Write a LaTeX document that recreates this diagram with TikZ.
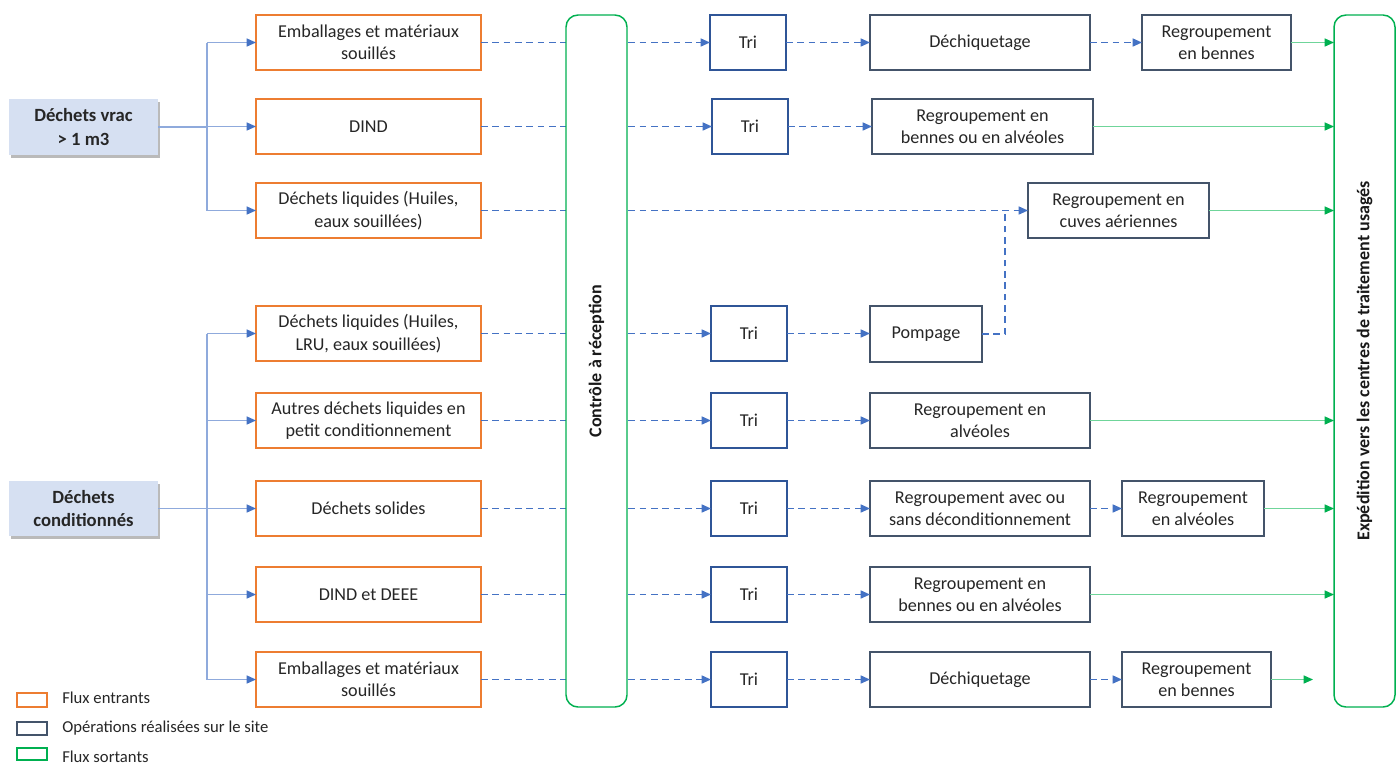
\documentclass[tikz,border=0pt]{standalone}
\usepackage{fontspec}
\setmainfont{Carlito}
\usetikzlibrary{arrows.meta,shadows}
\definecolor{org}{HTML}{ED7D31}
\definecolor{opc}{HTML}{44546A}
\definecolor{tric}{HTML}{2F5597}
\definecolor{blu}{HTML}{4472C4}
\definecolor{lblu}{HTML}{8FAADC}
\definecolor{grn}{HTML}{00B050}
\definecolor{lgrn}{HTML}{6FD59A}
\definecolor{srcf}{HTML}{D6E0F2}
\newcommand\bx[7]{\node[#6, inner sep=0pt, outer sep=0pt, minimum width={(#4-#2)*0.75pt}, minimum height={(#5-#3)*0.75pt}] (#1) at ({(#2+#4)/2},{(#3+#5)/2}) {#7};}
\begin{document}
\begin{tikzpicture}[x=0.75pt,y=-0.75pt,
  txt/.style={font=\fontsize{13.6}{16.8}\selectfont, align=center, text=black!85},
  inbox/.style={txt, draw=org, line width=1.3pt, fill=white},
  tribox/.style={txt, draw=tric, line width=1.1pt, fill=white},
  opbox/.style={txt, draw=opc, line width=1.1pt, fill=white},
  srcbox/.style={txt, font=\fontsize{14}{17.5}\selectfont\bfseries, fill=srcf, drop shadow={shadow xshift=1.5pt, shadow yshift=-2pt, opacity=.45, fill=black!60}},
  outbox/.style={draw=grn, line width=1.1pt, fill=white, rounded corners=9pt},
  vtext/.style={rotate=90, font=\fontsize{13.5}{16}\selectfont\bfseries, text=black!90},
  dsh/.style={draw=blu, line width=1.1pt, dash pattern=on 5pt off 3.5pt},
  dsharr/.style={dsh, -{Triangle[length=7pt,width=6pt,color=blu]}},
  bl/.style={draw=lblu, line width=1pt},
  blarr/.style={bl, -{Triangle[length=7pt,width=6pt,color=blu]}},
  garr/.style={draw=lgrn, line width=1pt, -{Triangle[length=7pt,width=6pt,color=grn]}},
  legtxt/.style={font=\fontsize{12.5}{14}\selectfont, text=black!85, anchor=west, inner sep=0pt}
]
\useasboundingbox (0,0) rectangle (1398,765);

% sources
\bx{s1}{9}{99}{158}{155}{srcbox}{Déchets vrac\\> 1 m3}
\bx{s2}{9}{481}{158}{536}{srcbox}{Déchets\\conditionnés}

% incoming boxes
\bx{o1}{256}{15}{481}{70}{inbox}{Emballages et matériaux\\souillés}
\bx{o2}{256}{99}{481}{154}{inbox}{DIND}
\bx{o3}{256}{183}{481}{238}{inbox}{Déchets liquides (Huiles,\\eaux souillées)}
\bx{o4}{256}{306}{481}{361}{inbox}{Déchets liquides (Huiles,\\LRU, eaux souillées)}
\bx{o5}{256}{393}{481}{448}{inbox}{Autres déchets liquides en\\petit conditionnement}
\bx{o6}{256}{481}{481}{536}{inbox}{Déchets solides}
\bx{o7}{256}{567}{481}{622}{inbox}{DIND et DEEE}
\bx{o8}{256}{652}{481}{707}{inbox}{Emballages et matériaux\\souillés}

% tri boxes
\bx{t1}{710}{15}{786}{70}{tribox}{Tri}
\bx{t2}{712}{99}{788}{154}{tribox}{Tri}
\bx{t4}{711}{306}{787}{361}{tribox}{Tri}
\bx{t5}{711}{393}{787}{448}{tribox}{Tri}
\bx{t6}{711}{481}{787}{536}{tribox}{Tri}
\bx{t7}{711}{567}{787}{622}{tribox}{Tri}
\bx{t8}{711}{652}{787}{707}{tribox}{Tri}

% operations
\bx{d1}{870}{15}{1090}{70}{opbox}{Déchiquetage}
\bx{b1}{1142}{15}{1291}{70}{opbox}{Regroupement\\en bennes}
\bx{r2}{872}{99}{1093}{154}{opbox}{Regroupement en\\bennes ou en alvéoles}
\bx{c3}{1028}{183}{1209}{238}{opbox}{Regroupement en\\cuves aériennes}
\bx{p4}{870}{306}{982}{362}{opbox}{Pompage}
\bx{r5}{870}{393}{1090}{448}{opbox}{Regroupement en\\alvéoles}
\bx{r6}{870}{481}{1090}{536}{opbox}{Regroupement avec ou\\sans déconditionnement}
\bx{a6}{1122}{481}{1264}{536}{opbox}{Regroupement\\en alvéoles}
\bx{r7}{870}{567}{1090}{622}{opbox}{Regroupement en\\bennes ou en alvéoles}
\bx{d8}{870}{652}{1090}{707}{opbox}{Déchiquetage}
\bx{b8}{1122}{652}{1271}{707}{opbox}{Regroupement\\en bennes}

% source connectors
\coordinate (jt) at (207,42.5);
\coordinate (jb) at (207,210.5);
\coordinate (kt) at (207,333.5);
\coordinate (kb) at (207,679.5);
\draw[bl] (s1.east) -- (s1.east -| jt);
\draw[bl] (jt) -- (jb);
\draw[blarr] (jt) -- (o1.west);
\draw[blarr] (o2.west -| jt) -- (o2.west);
\draw[blarr] (jb) -- (o3.west);
\draw[bl] (s2.east) -- (s2.east -| kt);
\draw[bl] (kt) -- (kb);
\draw[blarr] (kt) -- (o4.west);
\draw[blarr] (o5.west -| kt) -- (o5.west);
\draw[blarr] (o6.west -| kt) -- (o6.west);
\draw[blarr] (o7.west -| kt) -- (o7.west);
\draw[blarr] (kb) -- (o8.west);

% dashed flows through reception control
\draw[dsharr] (o1.east) -- (o1.east -| t1.west);
\draw[dsharr] (o2.east) -- (o2.east -| t2.west);
\draw[dsharr] (o3.east) -- (o3.east -| c3.west);
\draw[dsharr] (o4.east) -- (o4.east -| t4.west);
\draw[dsharr] (o5.east) -- (o5.east -| t5.west);
\draw[dsharr] (o6.east) -- (o6.east -| t6.west);
\draw[dsharr] (o7.east) -- (o7.east -| t7.west);
\draw[dsharr] (o8.east) -- (o8.east -| t8.west);

% reception control box (drawn on top)
\bx{ctl}{566}{15}{627}{707}{outbox}{}
\node[vtext] (ctlt) at (ctl.center) {Contrôle à réception};

% expedition box
\bx{exp}{1334}{15}{1395}{707}{outbox}{}
\node[vtext] (expt) at (exp.center) {Expédition vers les centres de traitement usagés};

% tri -> operations
\draw[dsharr] (t1.east) -- (t1.east -| d1.west);
\draw[dsharr] (d1.east) -- (d1.east -| b1.west);
\draw[dsharr] (t2.east) -- (t2.east -| r2.west);
\draw[dsharr] (t4.east) -- (t4.east -| p4.west);
\coordinate (jp) at (1005,210.5);
\draw[dsh] (p4.east) -| (jp);
\draw[dsharr] (t5.east) -- (t5.east -| r5.west);
\draw[dsharr] (t6.east) -- (t6.east -| r6.west);
\draw[dsharr] (r6.east) -- (r6.east -| a6.west);
\draw[dsharr] (t7.east) -- (t7.east -| r7.west);
\draw[dsharr] (t8.east) -- (t8.east -| d8.west);
\draw[dsharr] (d8.east) -- (d8.east -| b8.west);

% outgoing
\draw[garr] (b1.east) -- (b1.east -| exp.west);
\draw[garr] (r2.east) -- (r2.east -| exp.west);
\draw[garr] (c3.east) -- (c3.east -| exp.west);
\draw[garr] (r5.east) -- (r5.east -| exp.west);
\draw[garr] (a6.east) -- (a6.east -| exp.west);
\draw[garr] (r7.east) -- (r7.east -| exp.west);
\coordinate (e8) at (1313,679.5);
\draw[garr] (b8.east) -- (e8);

% legend
\bx{l1}{17}{693}{47}{707}{draw=org, line width=1.1pt}{}
\bx{l2}{17}{722}{47}{735}{draw=opc, line width=1.1pt}{}
\bx{l3}{17}{748}{47}{760}{draw=grn, line width=1.1pt}{}
\node[legtxt] (lt1) at (62,698) {Flux entrants};
\node[legtxt] (lt2) at (62,728) {Opérations réalisées sur le site};
\node[legtxt] (lt3) at (62,757) {Flux sortants};
\end{tikzpicture}
\end{document}
